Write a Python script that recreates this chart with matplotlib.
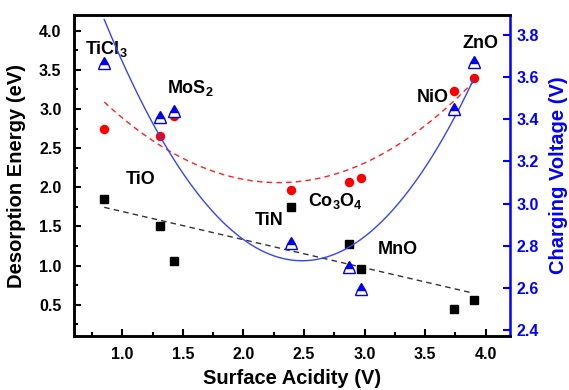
import matplotlib
matplotlib.use("Agg")
import matplotlib.pyplot as plt
from matplotlib.ticker import MultipleLocator
import numpy as np

plt.rcParams['font.family'] = ['Liberation Sans', 'DejaVu Sans']
plt.rcParams['font.weight'] = 'bold'
plt.rcParams['mathtext.fontset'] = 'custom'
plt.rcParams['mathtext.rm'] = 'Liberation Sans:bold'
plt.rcParams['mathtext.it'] = 'Liberation Sans:bold'
plt.rcParams['mathtext.bf'] = 'Liberation Sans:bold'

# surface acidity of each material (V)
acidity = [0.85, 1.31, 1.43, 2.39, 2.87, 2.97, 3.74, 3.90]
# desorption energies (eV), two sets
energy_black = [1.85, 1.50, 1.06, 1.75, 1.28, 0.955, 0.44, 0.56]
energy_red = [2.74, 2.66, 2.91, 1.96, 2.07, 2.12, 3.23, 3.39]
# charging voltage (V)
voltage = [3.665, 3.41, 3.44, 2.815, 2.70, 2.595, 3.447, 3.673]

labels = ['TiCl$_3$', 'MoS$_2$', 'TiO', 'TiN', 'Co$_3$O$_4$', 'MnO', 'NiO', 'ZnO']
label_x = [0.69, 1.37, 1.025, 2.09, 2.53, 3.11, 3.43, 3.81]
label_y = [3.76, 3.27, 2.10, 1.58, 1.83, 1.20, 3.15, 3.84]

x = np.array(acidity)
xs = np.linspace(x.min(), x.max(), 200)

fig = plt.figure(figsize=(5.69, 3.9), dpi=100)
ax = fig.add_axes([0.130, 0.1385, 0.766, 0.823])
ax2 = ax.twinx()

fit_black = np.polyfit(x, energy_black, 1)
fit_red = np.polyfit(x, energy_red, 2)
fit_blue = np.polyfit(x, voltage, 2)

ax.plot(xs, np.polyval(fit_black, xs), '--', color='#333333', lw=1.0, dashes=(4, 3))
ax.plot(xs, np.polyval(fit_red, xs), '--', color='#ff2020', lw=1.0, dashes=(4, 3))
ax.plot(x, energy_black, 's', color='black', ms=5.5)
ax.plot(x, energy_red, 'o', color='#ff0000', ms=5.8)

ax2.plot(xs, np.polyval(fit_blue, xs), '-', color='#3344ff', lw=1.0)
ax2.plot(x, voltage, '^', color='#0000ee', ms=9, fillstyle='top',
         markerfacecoloralt='white', markeredgecolor='#0000ee', mew=1.0)

for t, lx, ly in zip(labels, label_x, label_y):
    ax.text(lx, ly, t, fontsize=13, fontweight='bold', ha='left', va='center')

ax.set_xlim(0.6, 4.2)
ax.set_ylim(0.1, 4.2)
ax2.set_ylim(2.372, 3.894)

ax.xaxis.set_major_locator(MultipleLocator(0.5))
ax.xaxis.set_minor_locator(MultipleLocator(0.25))
ax.yaxis.set_major_locator(MultipleLocator(0.5))
ax.yaxis.set_minor_locator(MultipleLocator(0.25))
ax2.yaxis.set_major_locator(MultipleLocator(0.2))

ax.tick_params(which='both', direction='in', width=1.5, labelsize=11.5)
ax.tick_params(which='major', length=5)
ax.tick_params(which='minor', length=3)
ax.tick_params(axis='x', pad=8)
ax.tick_params(axis='y', pad=9)
ax2.tick_params(direction='in', width=1.5, length=5, colors='#0000ff', labelsize=11.5, pad=5)

for lab in ax.get_xticklabels() + ax.get_yticklabels() + ax2.get_yticklabels():
    lab.set_fontweight('bold')

for s in ['left', 'bottom', 'top']:
    ax.spines[s].set_linewidth(1.8)
    ax2.spines[s].set_linewidth(1.8)
ax2.spines['right'].set_color('#0000ff')
ax2.spines['right'].set_linewidth(1.8)
ax.spines['right'].set_visible(False)

ax.set_xlabel('Surface Acidity (V)', fontsize=14.5, fontweight='bold', labelpad=5)
ax.set_ylabel('Desorption Energy (eV)', fontsize=14.5, fontweight='bold', labelpad=9)
ax2.set_ylabel('Charging Voltage (V)', fontsize=14.5, fontweight='bold', color='#0000ff', labelpad=7)

fig.savefig('out.png', dpi=100)
